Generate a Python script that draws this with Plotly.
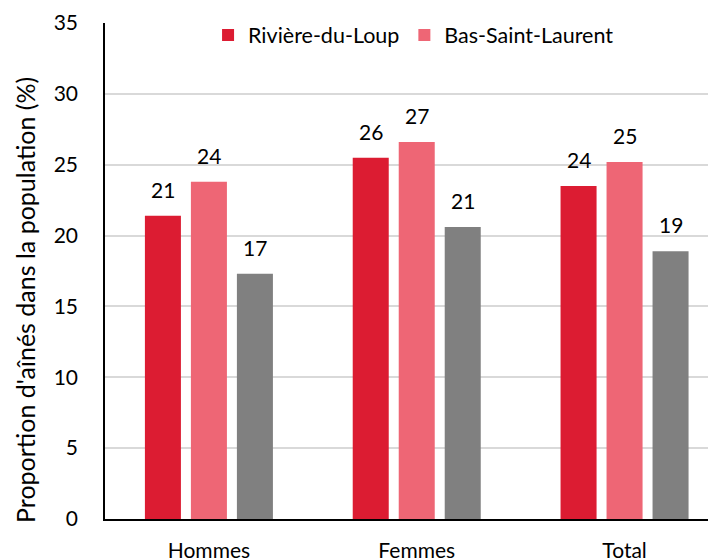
import plotly.graph_objects as go

categories = ["Hommes", "Femmes", "Total"]
series_names = ["Rivière-du-Loup", "Bas-Saint-Laurent", "Québec"]
riviere_du_loup = [21.4, 25.5, 23.5]
bas_saint_laurent = [23.8, 26.6, 25.2]
quebec = [17.3, 20.6, 18.9]
colors = ["#DC1C32", "#EE6675", "#808080"]
show_legend = [True, True, False]
y_ticks = [0, 5, 10, 15, 20, 25, 30, 35]
y_title = "Proportion d'aînés dans la population (%)"

series_values = [riviere_du_loup, bas_saint_laurent, quebec]
FONT = "Lato, Open Sans, sans-serif"

fig = go.Figure()
for name, vals, col, sl in zip(series_names, series_values, colors, show_legend):
    fig.add_trace(go.Bar(
        x=categories, y=vals, name=name, marker=dict(color=col, line=dict(width=0)),
        showlegend=sl,
    ))

# data labels above bars
shifts = [-46, 0, 46]
for vals, xs in zip(series_values, shifts):
    for c, v in zip(categories, vals):
        fig.add_annotation(x=c, y=v, text=f"{v:.0f}", showarrow=False,
                           xshift=xs, yshift=12, yanchor="bottom",
                           font=dict(family=FONT, size=21, color="#000000"))

# y axis title
fig.add_annotation(text=y_title, textangle=-90, xref="paper", yref="paper",
                   x=-0.131, y=0.4415, xanchor="center", yanchor="middle",
                   showarrow=False, font=dict(family=FONT, size=25, color="#000000"))

fig.update_layout(
    width=708, height=552,
    margin=dict(l=97, r=0, t=15, b=41),
    paper_bgcolor="white", plot_bgcolor="white",
    barmode="group", bargap=0.336, bargroupgap=0.217,
    font=dict(family=FONT, size=21, color="#000000"),
    legend=dict(orientation="h", x=0.505, xanchor="center", y=0.976, yanchor="middle",
                font=dict(size=21.5), bgcolor="rgba(255,255,255,0)", itemwidth=30),
    xaxis=dict(range=[-0.5, 2.44], showline=True, linecolor="#000000", linewidth=1.5,
               showgrid=False, ticks="", tickfont=dict(size=21), ticklabelstandoff=12,
               automargin=False),
    yaxis=dict(range=[0, 35], tickvals=y_ticks, showline=True, linecolor="#000000",
               linewidth=1.5, showgrid=True, gridcolor="#D9D9D9", gridwidth=1.5,
               ticks="", tickfont=dict(size=21), ticklabelstandoff=21, zeroline=False,
               automargin=False),
)

fig.write_html("out.html")
